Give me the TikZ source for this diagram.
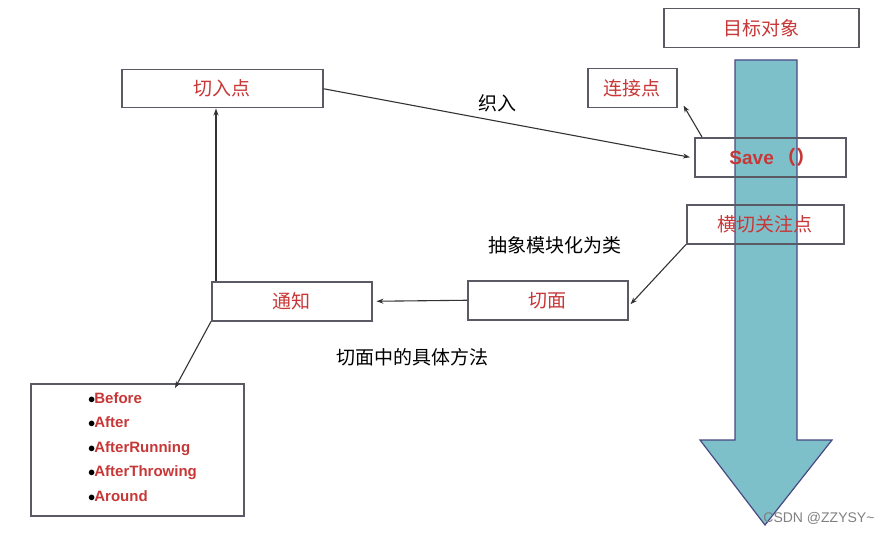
\documentclass[tikz,border=0pt]{standalone}
\usepackage{fontspec}
\setmainfont{Liberation Sans}
\newfontfamily\cjk{Noto Sans CJK SC}
\usetikzlibrary{arrows.meta}
\definecolor{tred}{RGB}{200,55,55}
\definecolor{teal1}{RGB}{125,192,202}
\definecolor{bord}{RGB}{90,90,100}
\begin{document}
\begin{tikzpicture}[x=1pt,y=-1pt,
  bx/.style={draw=bord,line width=1.5pt,inner sep=0pt,anchor=north west},
  rt/.style={text=tred,font=\cjk\fontsize{19}{22}\selectfont},
  lb/.style={font=\cjk\fontsize{19}{22}\selectfont},
  con/.style={draw=black!80,line width=1.1pt,-{Stealth[length=7pt,width=5pt]}}]
\useasboundingbox (0,0) rectangle (882,532);
% big arrow
\draw[fill=teal1,draw=bord!80!blue,line width=1.2pt] (735,60) -- (797,60) -- (797,440) -- (832,440) -- (765,525) -- (700,440) -- (735,440) -- cycle;
% boxes
\node[bx,fill=white,minimum width=195pt,minimum height=39pt] (obj) at (663,8) {};
\node[rt] at (obj.center) {目标对象};
\node[bx,fill=white,minimum width=89pt,minimum height=39pt] (jp) at (587,68) {};
\node[rt] at (jp.center) {连接点};
\node[bx,minimum width=151pt,minimum height=39pt] (save) at (694,137) {};
\node[text=tred,font=\bfseries\fontsize{19}{22}\selectfont] at ([xshift=2pt]save.center) {Save\,{\cjk（）}};
\node[bx,minimum width=157pt,minimum height=39pt] (cc) at (686,204) {};
\node[rt] at (cc.center) {横切关注点};
\node[bx,fill=white,minimum width=201pt,minimum height=38pt] (pc) at (121,69) {};
\node[rt] at (pc.center) {切入点};
\node[bx,fill=white,minimum width=160pt,minimum height=39pt] (adv) at (211,281) {};
\node[rt] at (adv.center) {通知};
\node[bx,fill=white,minimum width=160pt,minimum height=39pt] (asp) at (467,280) {};
\node[rt] at (asp.center) {切面};
\node[bx,fill=white,minimum width=213pt,minimum height=132pt] (lst) at (30,383) {};
\node[anchor=north west,align=left,inner sep=0pt,font=\bfseries\fontsize{15}{24.5}\selectfont] (items) at (88,392) {%
$\bullet$\kern-1pt\textcolor{tred}{Before}\\ $\bullet$\kern-1pt\textcolor{tred}{After}\\ $\bullet$\kern-1pt\textcolor{tred}{AfterRunning}\\ $\bullet$\kern-1pt\textcolor{tred}{AfterThrowing}\\ $\bullet$\kern-1pt\textcolor{tred}{Around}};
% connectors
\draw[con] (pc.east) -- ([xshift=-4pt]save.west);
\node[lb] (l1) at (497,103) {织入};
\draw[con] ([xshift=8pt]save.north west) -- ([xshift=6pt,yshift=3pt]jp.south east);
\draw[con] (cc.south west) -- ([xshift=2pt,yshift=-4pt]asp.east);
\node[lb] (l2) at (555,245) {抽象模块化为类};
\draw[con] (asp.west) -- ([xshift=4pt]adv.east);
\draw[con] ([xshift=5pt]adv.north west) -- ([xshift=95pt]pc.south west);
\draw[con] (adv.south west) -- ([xshift=145pt,yshift=-5pt]lst.north west);
\node[lb] (l3) at (412,357) {切面中的具体方法};
\node[text=gray,font=\fontsize{14}{16}\selectfont,anchor=south east] (wm) at (878,528) {CSDN @ZZYSY\textasciitilde};
\end{tikzpicture}
\end{document}
